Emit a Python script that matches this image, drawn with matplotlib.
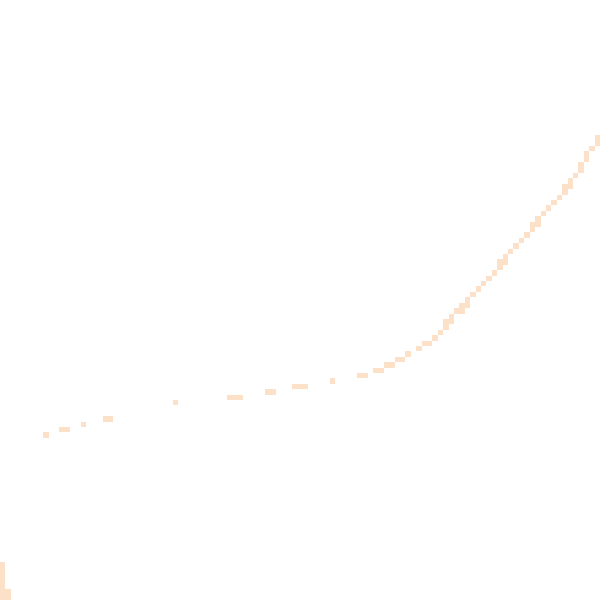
import numpy as np
import matplotlib
matplotlib.use("Agg")
import matplotlib.pyplot as plt
from matplotlib.colors import ListedColormap

# occupied cells of a 111 x 111 density grid (col from left, row from top)
cell_cols = [0, 0, 0, 0, 0, 0, 0, 1, 1,
             8, 11, 12, 15, 19, 20, 32, 42, 43, 44, 49, 50, 54, 55, 56,
             61, 66, 67, 69, 70, 71, 72, 73, 74, 75, 77, 78, 79, 80, 81,
             82, 82, 83, 83, 84, 85, 85, 86, 86, 87, 88, 89, 90, 91,
             92, 92, 93, 93, 94, 95, 96, 97, 98, 98, 99, 99, 100, 101,
             102, 103, 104, 104, 105, 105, 106, 107, 107, 108, 108, 109,
             110, 110]
cell_rows = [104, 105, 106, 107, 108, 109, 110, 109, 110,
             80, 79, 79, 78, 77, 77, 74, 73, 73, 73, 72, 72, 71, 71, 71,
             70, 69, 69, 68, 68, 67, 67, 66, 66, 65, 64, 63, 63, 62, 61,
             59, 60, 58, 59, 57, 57, 56, 56, 55, 54, 53, 52, 51, 50,
             48, 49, 47, 48, 46, 45, 44, 43, 41, 42, 40, 41, 39, 38,
             37, 36, 34, 35, 33, 34, 32, 30, 31, 28, 29, 27,
             25, 26]

n_bins = 111
grid = np.zeros((n_bins, n_bins))
for c, r in zip(cell_cols, cell_rows):
    grid[r, c] += 1
grid = np.ma.masked_equal(grid, 0)

cmap = ListedColormap(['#fde0c8'])

fig = plt.figure(figsize=(6, 6), dpi=100)
ax = fig.add_axes([0, 0, 1, 1])
ax.imshow(grid, cmap=cmap, interpolation='nearest', aspect='auto',
          extent=(0, n_bins, n_bins, 0))
ax.set_xlim(0, n_bins)
ax.set_ylim(n_bins, 0)
ax.axis('off')
fig.savefig('out.png', dpi=100, facecolor='white')
